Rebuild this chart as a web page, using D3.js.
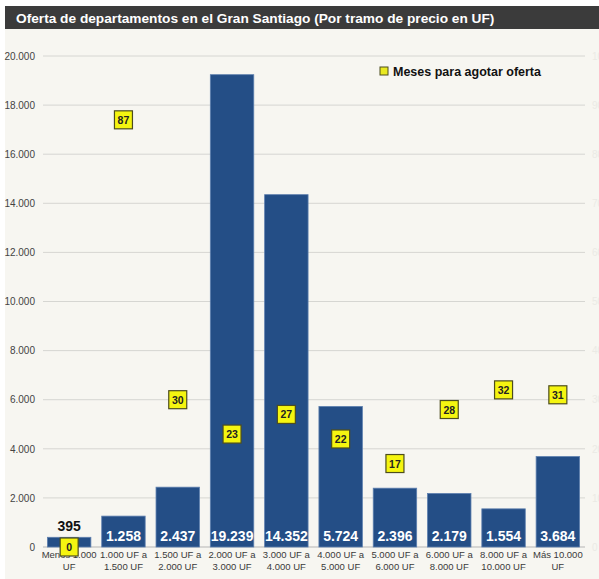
<!DOCTYPE html>
<html>
<head>
<meta charset="utf-8">
<script src="https://cdn.jsdelivr.net/npm/d3@7"></script>
<style>
  html, body { margin: 0; padding: 0; background: #ffffff; }
  svg { display: block; font-family: "Liberation Sans", Arial, sans-serif; }
</style>
</head>
<body>
<svg id="chart" width="599" height="579"></svg>
<script>
// Price brackets (two-line labels)
const categories = [
  ["Menos 1.000", "UF"],
  ["1.000 UF a", "1.500 UF"],
  ["1.500 UF a", "2.000 UF"],
  ["2.000 UF a", "3.000 UF"],
  ["3.000 UF a", "4.000 UF"],
  ["4.000 UF a", "5.000 UF"],
  ["5.000 UF a", "6.000 UF"],
  ["6.000 UF a", "8.000 UF"],
  ["8.000 UF a", "10.000 UF"],
  ["Más 10.000", "UF"]
];
// Units on offer per bracket
const oferta = [395, 1258, 2437, 19239, 14352, 5724, 2396, 2179, 1554, 3684];
// Months needed to sell the offer
const meses = [0, 87, 30, 23, 27, 22, 17, 28, 32, 31];
const leftTicks = [0, 2000, 4000, 6000, 8000, 10000, 12000, 14000, 16000, 18000, 20000];
const rightTicks = [0, 10, 20, 30, 40, 50, 60, 70, 80, 90, 100];

const svg = d3.select("#chart");
const W = 599, H = 579;
const fmt = d3.formatLocale({ decimal: ",", thousands: ".", grouping: [3] }).format(",d");

// Panel background and title bar
svg.append("rect").attr("x", 5).attr("y", 6).attr("width", W - 5).attr("height", H - 6).attr("fill", "#f7f6f1");
svg.append("rect").attr("x", 5).attr("y", 6).attr("width", W - 5).attr("height", 23).attr("fill", "#3b3b3b");
svg.append("text").attr("x", 16).attr("y", 23)
  .attr("fill", "#ffffff").attr("font-weight", "bold").attr("font-size", 13.7)
  .text("Oferta de departamentos en el Gran Santiago (Por tramo de precio en UF)");

const x = d3.scaleBand().domain(d3.range(categories.length)).range([42, 585]).paddingInner(0.2).paddingOuter(0.1);
const y = d3.scaleLinear().domain([0, 20000]).range([547, 56]);
const y2 = d3.scaleLinear().domain([0, 100]).range([547, 56]);

// Gridlines
svg.append("g").selectAll("line").data(leftTicks).join("line")
  .attr("x1", 43).attr("x2", 585)
  .attr("y1", d => y(d)).attr("y2", d => y(d))
  .attr("stroke", d => d === 0 ? "#b5b5b5" : "#d6d6d2").attr("stroke-width", 1);

// Left axis
const yAxis = d3.axisLeft(y).tickValues(leftTicks).tickSize(0).tickPadding(0).tickFormat(d => fmt(d));
const gy = svg.append("g").attr("transform", "translate(35,0)").call(yAxis);
gy.select(".domain").remove();
gy.selectAll("text").attr("fill", "#444").attr("font-size", 10).attr("font-family", "Liberation Sans, Arial, sans-serif");

// Right axis (faint)
const y2Axis = d3.axisRight(y2).tickValues(rightTicks).tickSize(0).tickPadding(0);
const gy2 = svg.append("g").attr("transform", "translate(592,0)").call(y2Axis);
gy2.select(".domain").remove();
gy2.selectAll("text").attr("fill", "#ebeae5").attr("font-size", 10).attr("font-family", "Liberation Sans, Arial, sans-serif");

// Bars
svg.append("g").selectAll("rect").data(oferta).join("rect")
  .attr("x", (d, i) => x(i)).attr("width", x.bandwidth())
  .attr("y", d => y(d)).attr("height", d => y(0) - y(d))
  .attr("fill", "#244e86").attr("stroke", "#5d7fae").attr("stroke-width", 0.8);

// Bar value labels
svg.append("g").selectAll("text").data(oferta).join("text")
  .attr("x", (d, i) => x(i) + x.bandwidth() / 2)
  .attr("y", d => y(0) - y(d) < 30 ? y(d) - 6 : 541)
  .attr("text-anchor", "middle").attr("font-weight", "bold").attr("font-size", 14)
  .attr("fill", d => y(0) - y(d) < 30 ? "#111" : "#ffffff")
  .text(d => fmt(d));

// Category labels
const xl = svg.append("g").selectAll("text").data(categories).join("text")
  .attr("x", (d, i) => x(i) + x.bandwidth() / 2)
  .attr("y", 558)
  .attr("text-anchor", "middle").attr("font-size", 9.5).attr("fill", "#3a3a3a");
xl.selectAll("tspan").data(d => d).join("tspan")
  .attr("x", function () { return d3.select(this.parentNode).attr("x"); })
  .attr("dy", (d, j) => j === 0 ? 0 : 11.5)
  .text(d => d);

// Month markers
const mk = svg.append("g").selectAll("g").data(meses).join("g")
  .attr("transform", (d, i) => `translate(${x(i) + x.bandwidth() / 2},${y2(d)})`);
mk.append("rect").attr("x", -9).attr("y", -9).attr("width", 18).attr("height", 18)
  .attr("fill", "#f5f510").attr("stroke", "#4d4d1e").attr("stroke-width", 1.2);
mk.append("text").attr("y", 4).attr("text-anchor", "middle")
  .attr("font-size", 10.5).attr("font-weight", "bold").attr("fill", "#222")
  .text(d => d);

// Legend
const lg = svg.append("g").attr("transform", "translate(384,71)");
lg.append("rect").attr("x", -4).attr("y", -4).attr("width", 8).attr("height", 8)
  .attr("fill", "#e9e920").attr("stroke", "#4d4d1e").attr("stroke-width", 1);
lg.append("text").attr("x", 9).attr("y", 4.5).attr("font-size", 12.5).attr("font-weight", "bold").attr("fill", "#111")
  .text("Meses para agotar oferta");
</script>
</body>
</html>
